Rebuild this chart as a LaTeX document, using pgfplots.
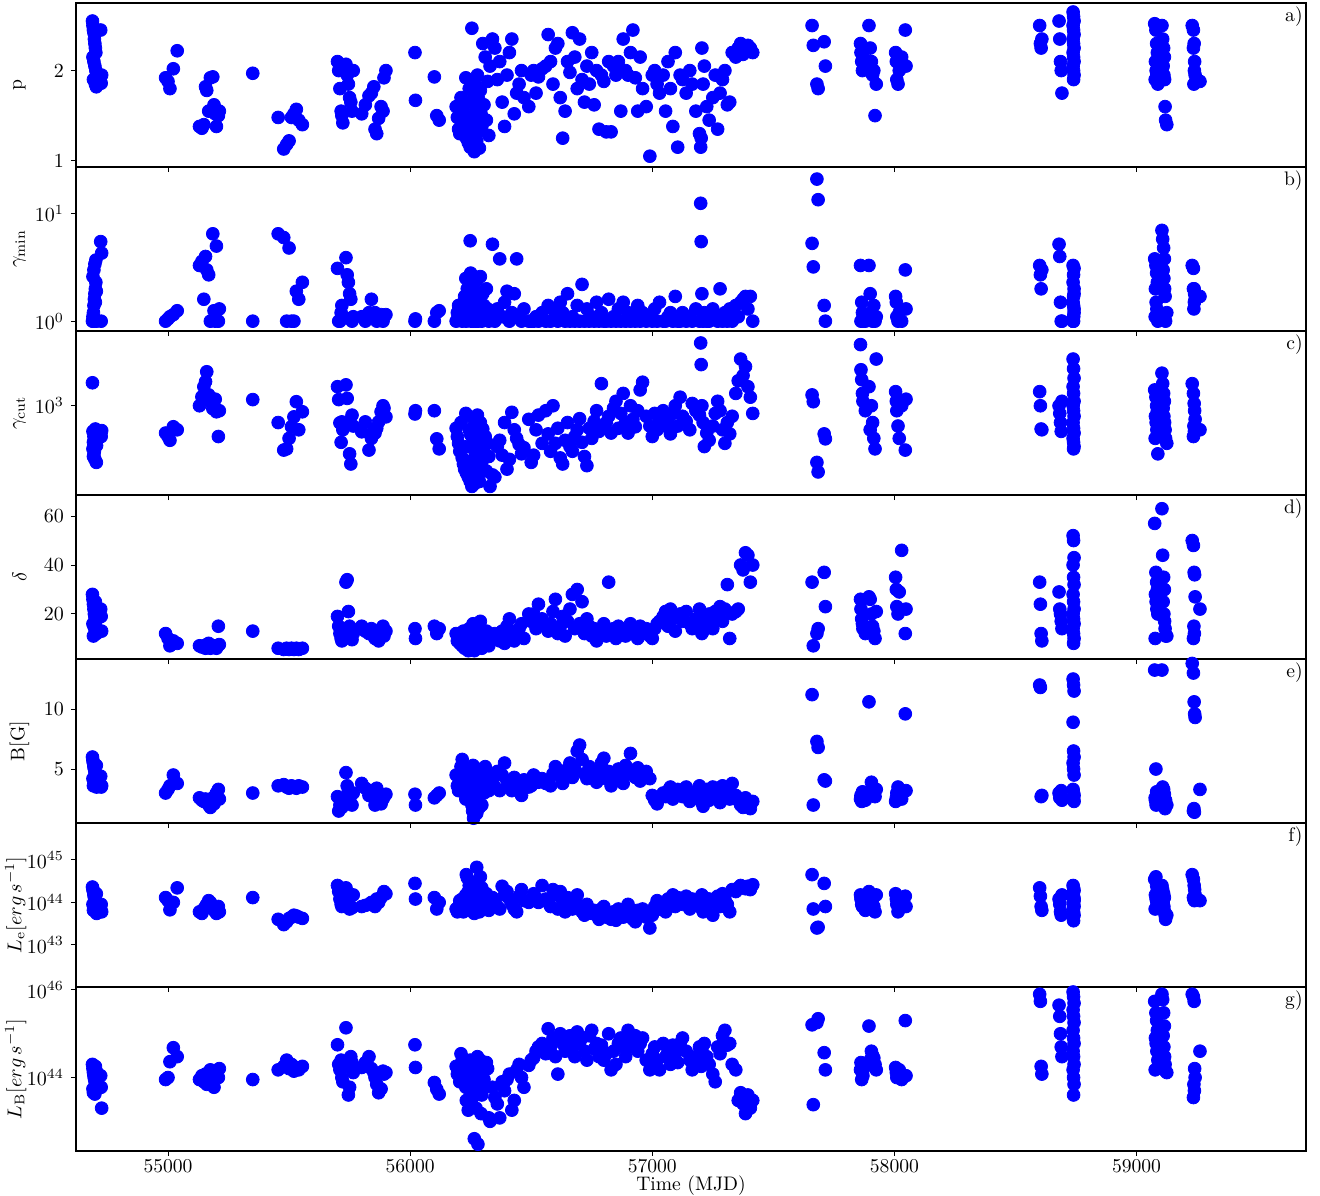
\documentclass[border=0pt]{standalone}
\usepackage{pgfplots}
\usepackage{pgfplotstable}
\pgfplotsset{compat=1.18}

% one row per fit: time, p, gamma_min, gamma_cut, delta, B, L_e, L_B
\pgfplotstableread{
t p gmin gcut delta B Le LB
54688 2.55 1.0 1630 28 6.0 2.3e44 2.0e44
54690 2.50 1.1 580 26 5.7 2.0e44 1.6e44
54692 2.45 1.2 460 24 5.5 1.8e44 1.3e44
54694 2.42 1.4 520 22 5.2 1.5e44 1.1e44
54696 2.35 1.6 380 20 5.0 1.3e44 9.5e43
54698 2.30 1.8 320 19 4.8 1.2e44 8.5e43
54700 2.25 2.0 610 18 4.6 1.1e44 7.5e43
54702 2.20 2.3 450 17 4.4 1.0e44 6.5e43
54690 2.15 2.6 400 16 4.2 9.0e43 5.5e43
54694 2.10 3.0 350 15 4.0 8.0e43 5.0e43
54698 2.05 3.4 500 14 3.8 7.0e43 4.2e43
54702 2.00 3.7 550 13 3.6 6.2e43 1.2e44
54705 1.95 1.0 430 12 3.5 5.5e43 8e43
54692 1.90 1.0 340 11 3.6 6.5e43 4.5e43
54700 1.85 1.5 480 25 4.5 9e43 1.8e44
54704 1.82 1.9 300 20 5.3 1.6e44 1.4e44
54722 2.45 5.5 560 22 4.4 7e43 1.1e44
54726 1.95 4.3 590 13 3.6 6e43 2e43
54724 1.86 1.0 520 19 3.5 9e43 6e43
54990 1.92 1.0 560 12 3.0 1.3e44 9e43
55000 1.88 1.05 520 10 3.3 1.1e44 1.0e44
55008 1.80 1.1 480 7 3.6 6.7e43 2.3e44
55022 2.02 1.15 640 9 4.5 1.0e44 4.8e44
55038 2.22 1.25 600 8 3.8 2.2e44 3.0e44
55130 1.38 3.3 1000 7 2.6 6e43 9e43
55140 1.36 3.6 1210 6.5 2.4 5.5e43 1.1e44
55148 1.40 1.6 1500 7 2.3 7e43 8e43
55155 1.82 4.0 1670 6 2.5 8e43 1.2e44
55160 1.78 3.0 2060 7.5 2.2 9e43 7e43
55168 1.55 2.7 1260 8 2.0 1.1e44 1.3e44
55175 1.92 1.0 1090 6 1.8 1.0e44 1.5e44
55185 1.93 6.5 940 7 2.6 8e43 1.0e44
55190 1.62 1.25 1000 6.5 2.1 6.5e43 6e43
55195 1.52 1.0 1150 7 2.7 7e43 1.4e44
55200 1.38 5.0 880 6 3.0 5.5e43 1.2e44
55208 1.50 1.0 520 15 3.3 8e43 1.0e44
55212 1.55 1.3 900 7.5 2.5 6e43 1.6e44
55350 1.97 1.0 1140 13 3.0 1.3e44 9e43
55455 1.48 6.5 700 6 3.6 4.0e43 1.5e44
55478 1.13 6.0 390 5.5 3.7 3.0e43 1.8e44
55490 1.18 1.0 400 6 3.5 3.5e43 2.5e44
55500 1.22 4.8 500 5.5 3.4 4.2e43 1.6e44
55510 1.48 1.0 640 6 3.6 4.5e43 2.0e44
55520 1.52 1.0 790 5.5 3.5 5e43 1.4e44
55530 1.57 1.9 1090 6 3.4 4.8e43 1.7e44
55540 1.45 1.6 600 5.5 3.6 4.5e43 1.5e44
55555 1.40 2.3 880 6 3.5 4.2e43 1.8e44
55700 2.10 3.1 1500 19 2.7 2.5e44 5.6e44
55705 2.00 1.0 1140 15 1.5 1.8e44 2.0e44
55710 1.80 1.0 695 12 2.0 1.2e44 1.5e44
55715 1.55 1.2 460 10 2.4 9e43 2.5e44
55718 1.50 1.4 710 9 1.8 8e43 1.0e44
55722 1.42 1.1 600 13 2.2 1.1e44 8e43
55735 2.07 3.9 1560 33 4.7 2.2e44 1.37e45
55740 1.95 2.7 1170 34 3.6 1.4e44 1.8e44
55745 1.85 2.3 710 21 3.2 1.0e44 4e43
55750 1.70 1.8 360 15 2.5 7e43 6e43
55755 1.65 1.6 290 11 2.8 8e43 3e44
55760 1.55 1.0 820 9.5 2.0 7.5e43 2.2e44
55765 2.00 1.1 650 12 3.0 1.5e44 1.3e44
55800 1.52 1.1 575 15 3.8 8e43 1.7e44
55815 1.62 1.0 710 13 3.4 8.5e43 2.2e44
55830 1.72 1.2 390 12 2.8 9e43 3.0e44
55840 1.75 1.6 500 14 3.2 1.0e44 1.6e44
55850 1.82 1.1 600 11 2.6 9e43 1.3e44
55855 1.35 1.2 560 10 2.0 8e43 1.0e44
55862 1.30 1.0 620 13 3.4 1.2e44 7e43
55870 1.47 1.1 710 9 2.4 1.0e44 4.5e43
55880 1.60 1.15 880 12 2.1 1.3e44 5.5e43
55888 1.55 1.0 1000 15 2.5 1.5e44 1.4e44
55892 1.92 1.1 950 11 2.7 1.8e44 1.2e44
55900 2.00 1.15 790 13 2.9 1.6e44 1.3e44
56020 2.20 1.0 840 14 2.9 2.8e44 5.6e44
56022 1.67 1.05 900 10 2.0 1.2e44 1.7e44
56100 1.93 1.0 900 15 2.6 1.3e44 7.7e43
56110 1.50 1.2 495 12 2.8 7e43 5.4e43
56120 1.45 1.25 400 14 3.0 1.0e44 4.2e43
56190 1.60 1.0 620 12 4.5 7e43 1.8e44
56195 1.48 1.2 520 9 3.6 6e43 1.2e44
56200 1.35 1.4 450 11 3.2 8e43 1.4e44
56205 1.30 1.1 380 8 4.2 1.1e44 8e43
56210 1.70 1.3 700 10 5.2 9e43 3.5e44
56215 1.62 1.0 330 7 5.8 1.2e44 2.5e44
56220 1.55 1.5 290 13 4.0 6e43 2.0e44
56225 1.45 1.7 260 6 3.0 7e43 9e43
56230 1.92 2.5 850 9 2.5 1.5e44 6e43
56232 1.25 1.0 240 11 5.0 4.5e44 3e43
56236 1.40 2.0 420 8 4.6 3.8e44 1.1e44
56240 1.20 1.3 220 5 4.3 1.8e44 1.8e43
56244 1.80 1.1 600 14 3.8 2.5e44 7e43
56248 1.15 5.6 200 10 3.4 1.3e44 2.5e44
56250 1.65 2.8 540 7 4.8 9e43 5e43
56252 1.35 1.0 310 12 2.8 7.5e43 1.5e44
56255 2.47 1.8 180 6 2.0 1.1e44 4e43
56258 1.28 1.4 250 9 1.5 6e43 3.5e43
56260 1.75 2.2 760 16 5.3 2.0e44 1.0e44
56262 1.50 1.0 400 8 0.9 8e43 7e43
56265 1.10 1.6 190 5 3.1 5.5e43 4e42
56268 1.85 1.2 650 13 4.0 1.5e44 2.0e44
56270 1.42 1.9 350 11 2.3 3.0e44 5.5e43
56272 1.58 1.0 480 6 3.6 1.2e44 2.0e43
56275 1.22 2.4 230 10 1.3 6.7e44 1.2e44
56278 1.95 1.5 820 14 5.0 1.7e44 3e44
56280 1.32 1.0 280 7 2.8 7e43 3e42
56283 1.68 1.3 560 12 4.4 9e43 8e43
56286 1.14 1.1 200 8 1.8 6e43 6e43
56290 1.78 2.6 700 17 4.8 4.0e44 2.5e44
56293 1.52 1.2 430 9 3.4 1.1e44 1.5e43
56296 1.38 1.0 300 6 2.0 2.2e44 4e43
56300 2.30 1.8 610 11 4.2 1.3e44 1.2e44
56305 1.62 1.4 370 7 3.0 9e43 9e43
56310 2.15 1.1 520 10 5.2 1.0e44 6e43
56315 1.45 2.0 250 13 4.6 1.6e44 2.2e44
56320 1.88 1.3 450 8 3.8 8e43 1.6e44
56325 1.28 1.0 340 7 3.2 6.5e43 1.2e43
56330 2.05 1.2 180 9 4.2 1.2e44 1e43
56340 2.35 5.2 230 11 4.0 1.3e44 6e43
56350 2.25 1.0 220 12 3.5 1.0e44 3.5e43
56360 1.90 1.3 420 10 4.8 8e43 2.5e43
56370 2.10 3.8 480 9 3.2 7e43 1.2e43
56380 1.65 1.1 350 13 4.5 2.4e44 8e43
56390 1.38 1.5 700 8 5.5 1.5e44 5e43
56400 1.95 1.9 260 15 4.0 1.8e44 9e43
56410 2.20 1.0 320 18 3.6 1.2e44 1.2e44
56420 2.35 1.2 870 11 3.2 9e43 1.8e43
56430 1.52 1.8 600 9 4.3 7e43 3e43
56440 1.75 3.8 500 12 3.8 6e43 1.5e44
56450 1.85 1.1 440 14 3.3 1.4e44 2.0e44
56460 2.00 1.0 360 16 2.8 2.0e44 1.0e44
56470 1.70 1.3 410 10 4.1 1.1e44 6e43
56490 1.60 1.0 750 20 3.5 1.0e44 1.9e44
56500 1.95 1.0 300 17 3.6 1.2e44 2.5e44
56510 2.00 1.0 350 20 4.5 1.6e44 2.8e44
56520 1.75 1.1 600 14 4.3 1.3e44 4e44
56530 1.93 1.0 820 24 3.9 1.0e44 5e44
56545 2.02 1.2 450 18 4.2 2.5e44 6e44
56560 2.05 1.0 900 15 3.8 1.2e44 3.5e44
56570 2.40 1.4 550 13 4.0 1.0e44 1.3e45
56580 2.10 1.0 380 16 3.6 8e43 5e44
56590 1.85 1.3 1000 21 4.6 2.0e44 8e44
56600 2.25 1.1 450 26 5.2 1.5e44 3e44
56610 2.30 1.0 620 12 4.9 7e43 1.2e44
56620 1.70 1.5 330 15 4.4 1.8e44 1.0e45
56630 1.25 1.2 290 19 3.8 1.1e44 6e44
56640 1.55 1.0 480 11 4.7 6e43 4e44
56650 2.10 1.8 700 17 5.0 1.3e44 7e44
56660 1.98 1.0 420 22 5.5 9e43 9e44
56670 2.42 1.1 380 28 4.3 7e43 5e44
56680 2.15 1.0 520 14 5.0 1.1e44 3e44
56690 1.80 1.4 600 30 6.5 1.5e44 1.1e45
56700 2.35 1.0 760 16 7.0 8e43 6e44
56710 1.90 2.2 460 25 5.8 6e43 8e44
56720 1.65 1.0 340 12 4.6 5e43 4e44
56730 2.05 1.3 280 18 4.2 9e43 2.5e44
56740 1.85 1.0 620 15 5.2 7e43 9e44
56750 2.20 1.1 500 11 4.4 5.5e43 1.2e45
56760 1.62 1.0 720 14 4.8 6.5e43 4.5e44
56770 2.00 1.5 900 9 3.9 5e43 6e44
56780 1.35 1.0 580 13 4.6 4e43 3e44
56790 1.95 1.2 1600 12 5.5 7e43 5.5e44
56800 1.88 1.0 650 16 5.9 8e43 2.5e44
56810 1.32 1.0 700 11 4.2 4.5e43 3.5e44
56820 2.10 1.6 800 33 4.8 5e43 1.0e45
56830 1.32 1.0 560 12 3.6 4e43 1.5e44
56840 2.05 1.1 950 14 4.0 6e43 4e44
56850 1.95 1.0 1100 10 4.4 3.8e43 2.0e44
56860 2.10 1.3 620 15 5.0 7e43 6e44
56870 1.55 1.0 850 13 4.2 5e43 8e44
56880 2.35 1.5 1300 12 3.8 4.5e43 5e44
56890 2.00 1.0 700 11 5.3 6e43 3e44
56900 1.95 1.2 560 14 4.6 9e43 1.2e45
56910 2.20 1.0 1000 16 6.3 5.5e43 7e44
56920 2.45 1.1 750 12 4.9 4e43 5e44
56930 1.92 1.0 640 13 4.3 3.5e43 9e44
56940 1.55 1.4 900 10 5.1 6.5e43 4e44
56950 2.15 1.0 1400 15 4.0 5e43 6e44
56960 1.80 1.2 1650 12 4.5 7e43 8e44
56975 1.60 1.0 800 14 4.8 4.5e43 2.5e44
56990 1.05 1.1 650 11 4.2 2.5e43 1.5e44
57000 1.95 1.0 520 10 2.8 5e43 3.5e44
57010 2.00 1.3 850 14 2.4 8e43 5e44
57020 1.85 1.0 600 16 2.1 1.1e44 2.5e44
57030 1.75 1.5 700 17 2.6 7e43 1.5e44
57045 1.95 1.0 900 19 3.0 9e43 6e44
57055 1.55 1.0 650 21 2.7 6e43 3e44
57065 2.10 1.1 760 15 3.2 1.2e44 4e44
57075 1.80 1.2 550 22 3.5 1.0e44 2e44
57085 1.38 1.0 850 18 2.5 1.5e44 5.5e44
57095 2.20 1.7 1000 13 2.9 8e43 3.5e44
57105 1.15 1.0 650 19 3.3 1.3e44 2.2e44
57115 1.95 1.0 1200 20 3.0 1.1e44 6e44
57125 1.90 1.2 800 17 2.7 9e43 8e44
57140 1.75 1.0 720 21 3.5 1.4e44 4e44
57155 2.00 1.1 600 16 2.3 7e43 2.5e44
57165 1.85 1.0 1050 14 2.8 1.2e44 1.5e44
57180 1.55 1.3 900 18 3.1 1.0e44 3e44
57195 1.30 1.0 820 22 3.6 8e43 5e44
57200 1.15 12.5 3800 18 2.6 1.1e44 3e44
57202 1.25 5.5 2400 15 3.2 9e43 1.8e44
57205 2.25 1.8 1000 12 2.2 1.5e44 4.5e44
57210 1.85 1.0 700 13 1.9 6e43 2.5e44
57215 2.05 1.2 420 19 2.7 1.3e44 6e44
57225 1.60 1.0 560 16 3.3 8e43 3e44
57235 1.45 1.0 480 20 2.4 1.2e44 2e44
57250 1.70 1.3 650 14 3.5 5e43 1.2e44
57260 1.95 1.1 850 21 2.9 1.0e44 8e43
57270 1.35 1.0 1100 18 3.4 1.4e44 5e44
57280 1.75 2.0 900 23 2.2 8e43 3.5e44
57290 1.90 1.0 600 17 3.6 1.6e44 9e44
57300 2.00 1.2 450 22 2.7 1.2e44 1.2e45
57310 1.62 1.0 700 32 3.0 9e43 5.5e44
57320 1.65 1.3 550 10 2.5 6e43 6e44
57330 2.20 1.0 800 20 3.8 2.0e44 2.0e44
57345 2.15 1.4 1300 21 2.8 1.8e44 1.5e44
57355 2.25 1.1 1700 22 2.4 2.2e44 3e43
57365 2.30 1.5 2700 40 2.0 2.5e44 4.5e43
57375 2.18 1.6 1900 38 1.8 2.3e44 2.5e43
57385 2.22 1.7 2300 45 2.6 2.1e44 1.5e43
57395 2.28 1.3 1500 44 2.2 2.4e44 4e43
57405 2.25 1.7 1200 33 1.7 2.0e44 2e43
57415 2.20 1.0 850 40 2.3 2.6e44 3e43
57660 2.50 5.3 1260 33 11.2 4.5e44 1.6e45
57665 2.28 3.2 1090 7 2.0 7e43 2.4e43
57680 1.85 21 300 12 7.3 2.5e43 1.8e45
57685 1.80 13.5 245 14 6.8 2.6e43 2.2e45
57710 2.32 1.4 550 37 4.1 2.8e44 3.7e44
57715 2.05 1.0 495 23 4.0 8e43 1.5e44
57860 2.30 3.3 3670 26 2.5 1.5e44 1.5e44
57862 2.20 1.0 2150 22 2.8 1.2e44 2.2e44
57865 2.10 1.5 1740 18 2.3 9e43 9e43
57868 2.00 1.2 1300 16 3.1 8e43 1.3e44
57870 2.15 1.0 1100 14 2.6 1.1e44 1.1e44
57880 2.05 1.0 900 12 2.4 6.5e43 1.8e44
57895 2.50 3.3 1500 27 10.6 1.8e44 1.5e45
57900 2.25 1.8 600 26 3.0 1.0e44 2.5e44
57905 2.10 1.2 1000 20 3.9 7e43 4e44
57910 1.95 1.0 700 15 3.5 1.2e44 3.2e44
57915 2.00 1.4 500 13 2.9 8e43 2.8e44
57920 1.50 1.0 400 10 2.7 6e43 2.0e44
57925 1.85 1.1 2700 21 3.3 1.5e44 1.5e44
58005 2.20 1.7 1350 35 2.3 1.6e44 1.7e44
58008 2.10 1.5 1100 30 2.6 1.2e44 1.3e44
58010 1.90 1.1 900 23 3.0 9e43 1.0e44
58015 1.85 1.0 650 20 3.5 6e43 1.1e44
58020 2.00 1.2 500 29 2.8 7e43 1.5e44
58030 2.15 1.0 1000 46 2.5 1.0e44 9e43
58045 2.45 3.0 390 12 9.6 1.4e44 2.0e45
58048 2.05 1.3 1150 22 3.2 8e43 1.1e44
58600 2.50 3.3 1350 33 12.0 2.2e44 8e45
58603 2.30 2.7 1000 24 11.8 1.4e44 5.5e45
58606 2.25 2.0 610 12 2.7 8e43 1.8e44
58609 2.35 3.0 600 9 2.8 6.5e43 1.2e44
58680 2.55 5.2 1000 29 3.0 1.2e44 4.5e45
58683 2.35 4.0 850 22 2.6 9e43 2.5e45
58686 2.10 1.5 700 20 2.9 6e43 1.0e45
58689 2.00 1.0 580 17 3.2 5e43 5e44
58692 1.75 1.0 1100 14 2.4 1.5e44 3e44
58738 2.65 1.0 2700 52 12.5 2.5e44 9e45
58740 2.60 1.1 2200 50 12.0 2.2e44 7e45
58742 2.55 1.3 1800 43 11.5 1.9e44 5e45
58738 2.50 1.5 1500 40 8.9 1.6e44 3.5e45
58740 2.45 1.7 1300 35 6.5 1.4e44 2.5e45
58742 2.40 2.0 1100 32 6.0 1.2e44 1.8e45
58738 2.35 2.3 1000 28 5.5 1.0e44 1.2e45
58740 2.30 2.7 900 25 5.0 9e43 8e44
58742 2.25 3.1 800 22 4.5 8e43 6e44
58738 2.20 3.3 700 20 3.3 7e43 4e44
58740 2.15 1.0 620 18 3.0 6e43 3e44
58742 2.10 1.2 560 16 2.8 5e43 2e44
58738 2.05 1.0 500 14 2.6 4.5e43 1.5e44
58740 2.00 1.4 460 12 2.5 3.7e43 1e44
58742 1.95 1.8 420 10 2.3 1.1e44 7e43
58740 1.90 1.1 400 8 2.4 1.3e44 4e43
59075 2.52 3.8 1400 57 13.25 3.5e44 5.5e45
59080 2.45 3.3 1200 37 5.0 4e44 3e45
59083 2.30 2.8 1000 33 3.1 2.5e44 2e45
59086 2.20 2.3 900 30 2.8 2e44 1.2e45
59078 2.10 2.0 800 28 2.4 1.5e44 8e44
59081 2.00 1.5 700 25 2.0 1.2e44 6e44
59084 1.95 1.3 600 22 3.0 1e44 4e44
59088 1.85 1.0 360 20 2.2 8e43 2.5e44
59077 1.90 1.1 500 10 2.6 7e43 1.5e44
59105 2.50 7.0 2000 63 13.25 2.5e44 8e45
59108 2.35 5.8 1600 44 3.5 2e44 6e45
59112 2.25 4.8 1300 35 3.3 1.6e44 3e45
59115 2.15 3.8 1100 30 2.9 1.3e44 1.5e45
59110 2.05 3.0 950 25 2.6 1e44 9e44
59113 1.95 2.5 800 20 2.2 8e43 5e44
59116 1.90 2.0 700 17 1.9 6e43 3e44
59118 1.60 1.7 600 14 1.7 5e43 2e44
59120 1.45 1.0 500 11 2.4 4e43 1.4e44
59125 1.40 1.2 450 11 2.0 5e43 1.3e44
59230 2.50 3.3 1600 50 13.8 4.5e44 8e45
59235 2.45 3.1 1300 48 13.0 3.5e44 7e45
59238 2.30 2.0 1050 37 10.6 2.5e44 5.5e45
59240 2.10 1.8 900 36 9.6 2e44 1.6e44
59242 1.95 1.6 750 27 9.3 1.5e44 1.0e44
59237 1.85 1.3 650 15 1.7 1.2e44 7e43
59239 2.00 1.5 580 12 1.4 1.1e44 5e43
59235 2.25 2.0 520 10 1.5 1.3e44 3.5e43
59262 1.88 1.7 600 22 3.3 1.1e44 4e44
}\data

\pgfplotsset{
  /pgf/number format/1000 sep={},
  panel/.style={
    scale only axis, width=615pt, height=82pt,
    anchor=north west,
    xmin=54620, xmax=59700,
    xtick={55000,56000,57000,58000,59000},
    xticklabels={},
    scaled x ticks=false,
    tick pos=left, tick align=outside,
    major tick length=2.5pt,
    xminorticks=false, yminorticks=false,
    axis line style={line width=1.2pt},
    every tick/.style={black, line width=0.5pt},
    ylabel style={at={(axis description cs:-0.046,0.5)}, anchor=center},
  },
  pts/.style={only marks, mark=*, mark size=3.2pt, color=blue,
    mark options={draw=blue, fill=blue}},
}

\begin{document}
\begin{tikzpicture}[font=\fontsize{9.8}{11.5}\selectfont]
\useasboundingbox (-38pt,1.5pt) rectangle (622pt,-596pt);

\begin{axis}[panel, at={(0pt,0pt)}, ymin=0.93, ymax=2.75, ytick={1,2}, ylabel={p}]
  \addplot[pts] table[x=t, y=p] {\data};
  \node[anchor=north east, inner sep=1.5pt] at (rel axis cs:1,1) {a)};
\end{axis}

\begin{axis}[panel, at={(0pt,-82pt)}, ymode=log, ymin=0.81, ymax=27.2, ytick={1,10},
  ylabel={$\gamma_{\mathrm{min}}$}]
  \addplot[pts] table[x=t, y=gmin] {\data};
  \node[anchor=north east, inner sep=1.5pt] at (rel axis cs:1,1) {b)};
\end{axis}

\begin{axis}[panel, at={(0pt,-164pt)}, ymode=log, ymin=150, ymax=4900, ytick={1000},
  ylabel={$\gamma_{\mathrm{cut}}$}]
  \addplot[pts] table[x=t, y=gcut] {\data};
  \node[anchor=north east, inner sep=1.5pt] at (rel axis cs:1,1) {c)};
\end{axis}

\begin{axis}[panel, at={(0pt,-246pt)}, ymin=1.6, ymax=68.6, ytick={20,40,60},
  ylabel={$\delta$}]
  \addplot[pts] table[x=t, y=delta] {\data};
  \node[anchor=north east, inner sep=1.5pt] at (rel axis cs:1,1) {d)};
\end{axis}

\begin{axis}[panel, at={(0pt,-328pt)}, ymin=0.5, ymax=14.17, ytick={5,10},
  ylabel={B[G]}]
  \addplot[pts] table[x=t, y=B] {\data};
  \node[anchor=north east, inner sep=1.5pt] at (rel axis cs:1,1) {e)};
\end{axis}

\begin{axis}[panel, at={(0pt,-410pt)}, ymode=log, ymin=1.02e42, ymax=7.4e45,
  ytick={1e43,1e44,1e45},
  ylabel={$L_{\mathrm{e}}[erg\,s^{-1}]$},
  ylabel style={at={(axis description cs:-0.049,0.5)}}]
  \addplot[pts] table[x=t, y=Le] {\data};
  \node[anchor=north east, inner sep=1.5pt] at (rel axis cs:1,1) {f)};
\end{axis}

\begin{axis}[panel, at={(0pt,-492pt)}, ymode=log, ymin=2.1e42, ymax=1.17e46,
  ytick={1e44,1e46},
  xticklabels={55000,56000,57000,58000,59000},
  xticklabel style={inner sep=0pt, yshift=-1.5pt},
  xlabel={Time (MJD)},
  xlabel style={at={(axis description cs:0.5,0)}, anchor=north, inner sep=0pt, yshift=-12pt},
  ylabel={$L_{\mathrm{B}}[erg\,s^{-1}]$},
  ylabel style={at={(axis description cs:-0.049,0.5)}}]
  \addplot[pts] table[x=t, y=LB] {\data};
  \node[anchor=north east, inner sep=1.5pt] at (rel axis cs:1,1) {g)};
\end{axis}
\end{tikzpicture}
\end{document}
